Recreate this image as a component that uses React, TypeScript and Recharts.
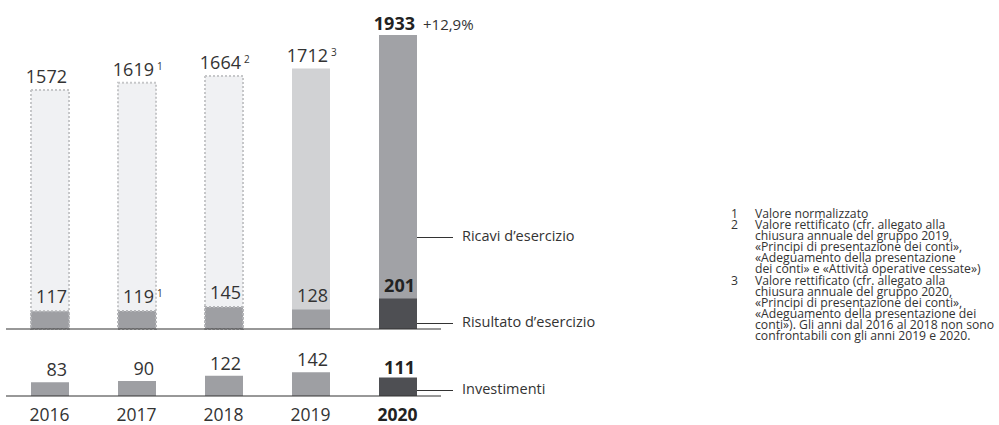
import React from "react";
import { BarChart, Bar, XAxis, YAxis, Cell, LabelList, ReferenceLine } from "recharts";

const years = ["2016", "2017", "2018", "2019", "2020"];
const revenue = [1572, 1619, 1664, 1712, 1933];
const profit = [117, 119, 145, 128, 201];
const investment = [83, 90, 122, 142, 111];
const revenueNotes = ["", "1", "2", "3", ""];
const profitNotes = ["", "1", "", "", ""];
const revenueGrowth = "+12,9%";
const seriesNames = ["Ricavi d\u2019esercizio", "Risultato d\u2019esercizio", "Investimenti"];
const footnotes = [
  ["Valore normalizzato"],
  [
    "Valore rettificato (cfr. allegato alla",
    "chiusura annuale del gruppo 2019,",
    "\u00abPrincipi di presentazione dei conti\u00bb,",
    "\u00abAdeguamento della presentazione",
    "dei conti\u00bb e \u00abAttivit\u00e0 operative cessate\u00bb)",
  ],
  [
    "Valore rettificato (cfr. allegato alla",
    "chiusura annuale del gruppo 2020,",
    "\u00abPrincipi di presentazione dei conti\u00bb,",
    "\u00abAdeguamento della presentazione dei",
    "conti\u00bb). Gli anni dal 2016 al 2018 non sono",
    "confrontabili con gli anni 2019 e 2020.",
  ],
];

const FONT = "'Open Sans', sans-serif";
const TEXT = "#333";
const LAST = years.length - 1;

const data = years.map((year, i) => ({
  year,
  revenue: revenue[i],
  profit: profit[i],
  investment: investment[i],
}));

const revenueFill = (i: number) => (i === LAST ? "#a1a2a6" : i === 3 ? "#d1d2d4" : "#f0f1f3");
const profitFill = (i: number) => (i === LAST ? "#4e4f53" : "#9e9fa3");
const dotted = (i: number) => i < 3;

function valueLabel(notes: string[] | null, lift: number, growth?: string) {
  // eslint-disable-next-line @typescript-eslint/no-explicit-any
  return (props: any) => {
    const { x, y, width, value, index } = props;
    const bold = index === LAST;
    const right = Number(x) + Number(width) - 2;
    const note = notes ? notes[index] : "";
    return (
      <g>
        <text
          x={right}
          y={Number(y) - (bold ? lift - 2 : lift)}
          textAnchor="end"
          fontFamily={FONT}
          fontSize={18}
          fontWeight={bold ? 700 : 400}
          fill={bold ? "#222" : TEXT}
        >
          {value}
        </text>
        {note && (
          <text x={right + 3} y={Number(y) - lift - 6} fontFamily={FONT} fontSize={10} fill={TEXT}>
            {note}
          </text>
        )}
        {bold && growth && (
          <text x={right + 8} y={Number(y) - lift + 2} fontFamily={FONT} fontSize={15} fill={TEXT}>
            {growth}
          </text>
        )}
      </g>
    );
  };
}

// eslint-disable-next-line @typescript-eslint/no-explicit-any
const YearTick = (props: any) => {
  const { x, payload } = props;
  const bold = payload.value === years[LAST];
  return (
    <text
      x={x}
      y={81}
      textAnchor="middle"
      fontFamily={FONT}
      fontSize={17.5}
      fontWeight={bold ? 700 : 400}
      fill={bold ? "#222" : TEXT}
    >
      {payload.value}
    </text>
  );
};

const leaders = [237, 323, 390];

export default function App() {
  return (
    <div style={{ position: "absolute", left: 0, top: 0, width: 999, height: 425, background: "#fff", fontFamily: FONT }}>
      <div style={{ position: "absolute", left: 0, top: 0 }}>
        <BarChart width={500} height={331} data={data} margin={{ top: 35, right: 59, left: 6, bottom: 2 }}>
          <XAxis xAxisId="rev" dataKey="year" hide />
          <XAxis xAxisId="pro" dataKey="year" hide />
          <YAxis domain={[0, "dataMax"]} hide />
          <Bar xAxisId="rev" dataKey="revenue" barSize={38} isAnimationActive={false}>
            {data.map((_, i) => (
              <Cell
                key={i}
                fill={revenueFill(i)}
                stroke={dotted(i) ? "#c6c7c9" : "none"}
                strokeWidth={2}
                strokeDasharray={dotted(i) ? "2 2" : undefined}
              />
            ))}
            <LabelList dataKey="revenue" content={valueLabel(revenueNotes, 7, revenueGrowth)} />
          </Bar>
          <Bar xAxisId="pro" dataKey="profit" barSize={38} isAnimationActive={false}>
            {data.map((_, i) => (
              <Cell
                key={i}
                fill={profitFill(i)}
                stroke={dotted(i) ? "#b4b5b8" : "none"}
                strokeWidth={2}
                strokeDasharray={dotted(i) ? "2 2" : undefined}
              />
            ))}
            <LabelList dataKey="profit" content={valueLabel(profitNotes, 8)} />
          </Bar>
          <ReferenceLine xAxisId="rev" y={0} stroke="#333" strokeWidth={1.2} />
        </BarChart>
      </div>

      <div style={{ position: "absolute", left: 0, top: 340 }}>
        <BarChart width={450} height={85} data={data} margin={{ top: 31, right: 9, left: 6, bottom: 0 }}>
          <XAxis dataKey="year" height={29} axisLine={{ stroke: "#333", strokeWidth: 1.2 }} tickLine={false} tick={<YearTick />} interval={0} />
          <YAxis domain={[0, 150]} hide />
          <Bar dataKey="investment" barSize={38} isAnimationActive={false}>
            {data.map((_, i) => (
              <Cell key={i} fill={profitFill(i)} />
            ))}
            <LabelList dataKey="investment" content={valueLabel(null, 6)} />
          </Bar>
        </BarChart>
      </div>

      {leaders.map((top, i) => (
        <React.Fragment key={i}>
          <div style={{ position: "absolute", left: 417, top, width: 36, height: 0, borderTop: "1px solid #333" }} />
          <div style={{ position: "absolute", left: 462, top: top - 11, fontSize: 14.5, color: TEXT, whiteSpace: "nowrap", lineHeight: "20px" }}>
            {seriesNames[i]}
          </div>
        </React.Fragment>
      ))}

      <div style={{ position: "absolute", left: 726, top: 208, fontSize: 12.2, lineHeight: "11.1px", color: TEXT }}>
        {footnotes.map((lines, n) => (
          <div key={n} style={{ display: "flex" }}>
            <div style={{ width: 12, textAlign: "right" }}>{n + 1}</div>
            <div style={{ marginLeft: 17, whiteSpace: "nowrap" }}>
              {lines.map((line, k) => (
                <div key={k}>{line}</div>
              ))}
            </div>
          </div>
        ))}
      </div>
    </div>
  );
}
